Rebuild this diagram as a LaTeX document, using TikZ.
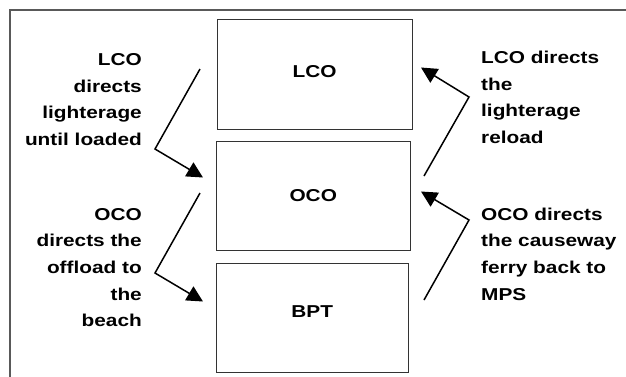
\documentclass[tikz,border=0pt]{standalone}
\usepackage{fontspec}
\setmainfont{Liberation Sans}[FakeStretch=1.21]
\usetikzlibrary{arrows.meta}
\begin{document}
\begin{tikzpicture}[x=1pt,y=-1pt,
  box/.style={draw=black!80,line width=0.9pt,inner sep=0pt,font=\lbl},
  lbl/.style={inner sep=0pt,font=\lbl},
  arr/.style={line width=1.5pt,-{Triangle[length=16pt,width=16pt]}}]
\newcommand{\lbl}{\fontsize{17.2}{26.7}\selectfont\bfseries}
\useasboundingbox (0,0) rectangle (626,376);
\clip (0,0) rectangle (626,376);
\fill[white] (0,0) rectangle (626,376);
\draw[black!65,line width=1.3pt] (10,10) rectangle (700,450);
\node[box,minimum width=195pt,minimum height=110pt] (lco) at (314.5,74) {\raisebox{6pt}{LCO}};
\node[box,minimum width=193.5pt,minimum height=109pt] (oco) at (313.25,195.5) {OCO};
\node[box,minimum width=191.5pt,minimum height=109pt] (bpt) at (312.25,317.5) {\raisebox{11pt}{BPT}};
\node[lbl,align=right,anchor=base east] (t1) at (142,145.6) {LCO\\directs\\lighterage\\until loaded};
\node[lbl,align=right,anchor=base east] (t2) at (142,326.8) {OCO\\directs the\\offload to\\the\\beach};
\node[lbl,align=left,anchor=base west] (t3) at (481,143.6) {LCO directs\\the\\lighterage\\reload};
\node[lbl,align=left,anchor=base west] (t4) at (481,300.1) {OCO directs\\the causeway\\ferry back to\\MPS};
\coordinate (a1s) at (200,69);
\coordinate (a1m) at (155,149);
\coordinate (a1e) at (203,177.5);
\coordinate (a2s) at (200,193);
\coordinate (a2m) at (155,273);
\coordinate (a2e) at (203,301.5);
\coordinate (a3s) at (424,176);
\coordinate (a3m) at (469,97);
\coordinate (a3e) at (421,67.5);
\coordinate (a4s) at (424,300);
\coordinate (a4m) at (469,220);
\coordinate (a4e) at (421,191.5);
\draw[arr] (a1s) -- (a1m) -- (a1e);
\draw[arr] (a2s) -- (a2m) -- (a2e);
\draw[arr] (a3s) -- (a3m) -- (a3e);
\draw[arr] (a4s) -- (a4m) -- (a4e);
\end{tikzpicture}
\end{document}
